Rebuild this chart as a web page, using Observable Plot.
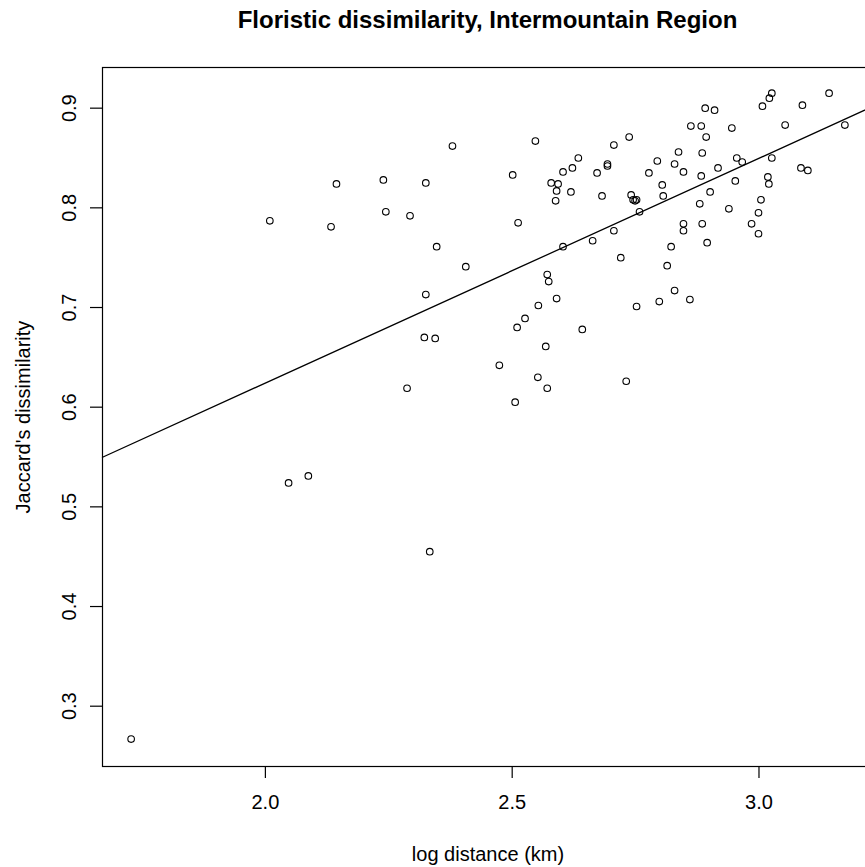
<!DOCTYPE html>
<html><head><meta charset="utf-8">
<script src="https://cdn.jsdelivr.net/npm/d3@7"></script>
<script src="https://cdn.jsdelivr.net/npm/@observablehq/plot@0.6"></script>
<style>
html,body{margin:0;padding:0;background:#fff;overflow:hidden;}
#wrap{position:relative;width:865px;height:867px;overflow:hidden;font-family:"Liberation Sans",Arial,Helvetica,sans-serif;}
#title{position:absolute;left:102px;width:771px;top:0;height:44px;line-height:40px;text-align:center;font-weight:bold;font-size:24px;color:#000;white-space:nowrap;}
#chart{position:absolute;left:0;top:44px;}
</style></head><body>
<div id="wrap"><div id="title">Floristic dissimilarity, Intermountain Region</div><div id="chart"></div></div>
<script>
const logDistance = [
1.728,2.009,2.047,2.087,2.133,2.144,2.239,2.244,2.325,2.293,2.379,2.347,2.406,2.325,2.322,2.344,2.287,2.333,
2.501,2.547,2.512,2.579,2.593,2.590,2.588,2.603,2.622,2.634,2.619,2.672,2.603,2.663,2.571,2.574,2.590,2.553,
2.526,2.510,2.642,2.474,2.568,2.552,2.571,2.506,2.682,
2.891,2.910,3.007,3.021,3.026,3.088,3.142,2.862,2.883,2.945,3.053,3.174,2.737,2.893,2.706,2.837,2.885,2.794,
2.693,2.693,2.829,2.955,2.966,3.026,2.847,2.777,2.917,3.085,3.099,2.883,3.018,3.020,2.952,2.804,2.806,2.741,
2.745,2.749,2.752,2.901,2.758,2.880,3.004,2.939,2.999,2.985,2.999,2.847,2.847,2.885,2.895,2.706,2.822,2.720,
2.814,2.829,2.798,2.860,2.752,2.731
];
const jaccard = [
0.267,0.787,0.524,0.531,0.781,0.824,0.828,0.796,0.825,0.792,0.862,0.761,0.741,0.713,0.670,0.669,0.619,0.455,
0.833,0.867,0.785,0.825,0.824,0.817,0.807,0.836,0.840,0.850,0.816,0.835,0.761,0.767,0.733,0.726,0.709,0.702,
0.689,0.680,0.678,0.642,0.661,0.630,0.619,0.605,0.812,
0.900,0.898,0.902,0.910,0.915,0.903,0.915,0.882,0.882,0.880,0.883,0.883,0.871,0.871,0.863,0.856,0.855,0.847,
0.844,0.842,0.844,0.850,0.846,0.850,0.836,0.835,0.840,0.840,0.8375,0.832,0.831,0.824,0.827,0.823,0.812,0.813,
0.808,0.807,0.808,0.816,0.796,0.804,0.808,0.799,0.795,0.784,0.774,0.784,0.777,0.784,0.765,0.777,0.761,0.750,
0.742,0.717,0.706,0.708,0.701,0.626
];
const xTicks = [2.0, 2.5, 3.0];
const yTicks = [0.3, 0.4, 0.5, 0.6, 0.7, 0.8, 0.9];
const xDomain = [1.670, 3.232];
const yDomain = [0.2395, 0.9408];
const lmIntercept = 0.1732;
const lmSlope = 0.2255;
const titleText = "Floristic dissimilarity, Intermountain Region";
const xLabel = "log distance (km)";
const yLabel = "Jaccard's dissimilarity";

const points = logDistance.map((x, i) => ({x, y: jaccard[i]}));
const fitLine = xDomain.map(x => ({x, y: lmIntercept + lmSlope * x}));
const fmt = d3.format(".1f");

const plot = Plot.plot({
  width: 873, height: 823,
  marginLeft: 102, marginRight: 0, marginTop: 23, marginBottom: 101,
  style: {fontFamily: "'Liberation Sans', Arial, Helvetica, sans-serif", background: "white", maxWidth: "none", color: "#000"},
  x: {domain: xDomain, axis: null},
  y: {domain: yDomain, axis: null},
  marks: [
    Plot.line(fitLine, {x: "x", y: "y", stroke: "#000", strokeWidth: 1.3}),
    Plot.dot(points, {x: "x", y: "y", r: 3.3, stroke: "#000", strokeWidth: 1.1, fill: "none"}),
    Plot.frame({stroke: "#000", strokeWidth: 1.2}),
    Plot.axisX({ticks: xTicks, tickSize: 12, tickFormat: () => "", label: null, stroke: "#000", strokeWidth: 1.2}),
    Plot.axisY({ticks: yTicks, tickSize: 12, tickFormat: () => "", label: null, stroke: "#000", strokeWidth: 1.2}),
    Plot.text(xTicks, {x: d => d, frameAnchor: "bottom", dy: 36, text: fmt, fontSize: 20, lineAnchor: "middle", textAnchor: "middle", fill: "#000"}),
    Plot.text(yTicks, {y: d => d, frameAnchor: "left", dx: -33, rotate: -90, text: fmt, fontSize: 20, lineAnchor: "middle", textAnchor: "middle", fill: "#000"}),
    Plot.text([xLabel], {frameAnchor: "bottom", dy: 88, text: d => d, fontSize: 20, lineAnchor: "middle", textAnchor: "middle", fill: "#000"}),
    Plot.text([yLabel], {frameAnchor: "left", dx: -79, rotate: -90, text: d => d, fontSize: 20, lineAnchor: "middle", textAnchor: "middle", fill: "#000"})
  ]
});
document.getElementById("title").textContent = titleText;
document.getElementById("chart").appendChild(plot);
</script>
</body></html>
